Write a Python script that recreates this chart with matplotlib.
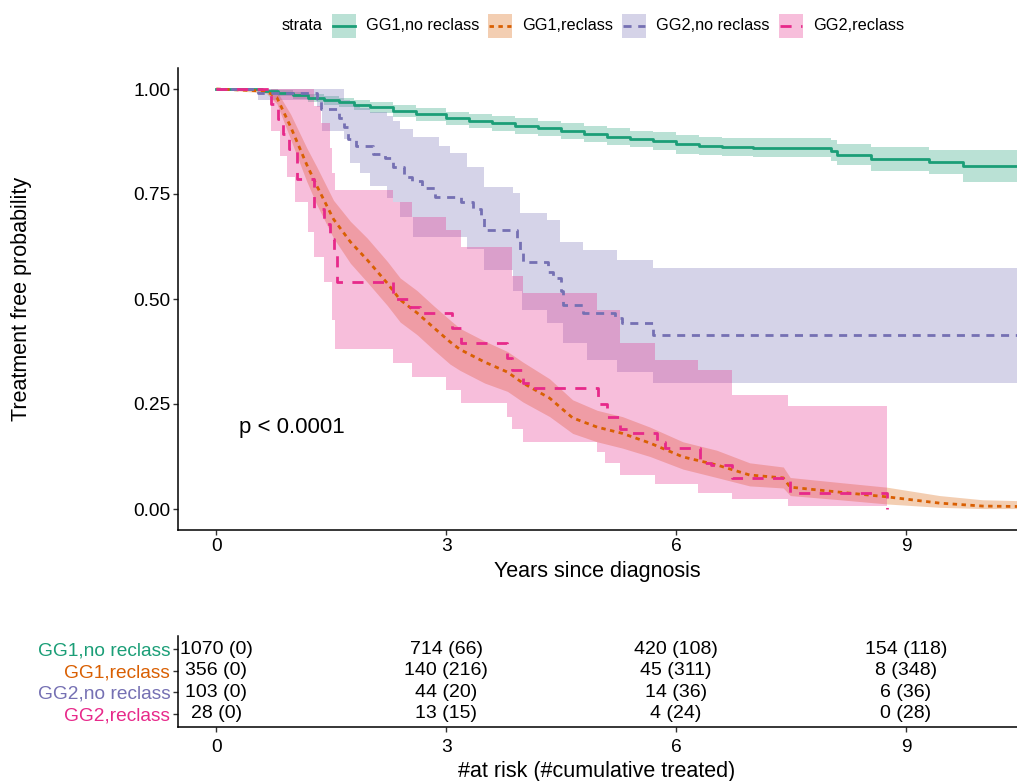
import matplotlib
matplotlib.use('Agg')
import matplotlib.pyplot as plt
from matplotlib.patches import Rectangle
from matplotlib.lines import Line2D

plt.rcParams['font.family'] = ['Liberation Sans', 'DejaVu Sans']

# ---------------- data ----------------
strata = ['GG1,no reclass', 'GG1,reclass', 'GG2,no reclass', 'GG2,reclass']
colors = ['#1B9E77', '#D95F02', '#7570B3', '#E7298A']

# GG1,no reclass (solid)
g1n_t = [0, 0.6, 0.8, 1.0, 1.2, 1.4, 1.6, 1.8, 2.0, 2.3, 2.6, 3.0, 3.3, 3.6, 3.9, 4.2, 4.5,
         4.8, 5.1, 5.4, 5.7, 6.0, 6.3, 6.6, 7.0, 8.02, 8.1, 8.55, 9.3, 9.75, 10.45]
g1n_s = [1.0, 0.995, 0.99, 0.985, 0.979, 0.974, 0.968, 0.962, 0.956, 0.948, 0.94, 0.93, 0.924,
         0.918, 0.912, 0.906, 0.9, 0.892, 0.886, 0.881, 0.876, 0.868, 0.864, 0.862, 0.86,
         0.852, 0.843, 0.833, 0.826, 0.817, 0.817]
g1n_up = [1.0, 1.0, 0.997, 0.993, 0.989, 0.984, 0.979, 0.974, 0.969, 0.962, 0.955, 0.946, 0.94,
          0.935, 0.93, 0.924, 0.918, 0.911, 0.906, 0.901, 0.897, 0.89, 0.886, 0.884, 0.883,
          0.878, 0.868, 0.862, 0.855, 0.855, 0.855]
g1n_lo = [1.0, 0.99, 0.983, 0.976, 0.969, 0.963, 0.956, 0.95, 0.943, 0.934, 0.925, 0.914, 0.908,
          0.901, 0.894, 0.888, 0.882, 0.873, 0.866, 0.861, 0.855, 0.846, 0.842, 0.84, 0.837,
          0.828, 0.818, 0.805, 0.798, 0.779, 0.779]

# GG1,reclass (dotted)
g1r_t = [0, 0.65, 0.79, 0.97, 1.18, 1.31, 1.53, 1.75, 1.97, 2.23, 2.4, 2.62, 2.83, 3.05, 3.18,
         3.5, 3.8, 4.0, 4.35, 4.65, 4.97, 5.3, 5.66, 6.09, 6.53, 6.96, 7.4, 7.49, 8.14, 8.75,
         9.44, 10.0, 10.45]
g1r_s = [1.0, 0.995, 0.98, 0.91, 0.82, 0.77, 0.69, 0.636, 0.593, 0.538, 0.498, 0.467, 0.433,
         0.398, 0.38, 0.35, 0.326, 0.30, 0.264, 0.217, 0.195, 0.18, 0.157, 0.124, 0.105, 0.081,
         0.074, 0.052, 0.04, 0.029, 0.014, 0.007, 0.006]
g1r_up = [1.0, 1.0, 0.995, 0.94, 0.86, 0.815, 0.735, 0.685, 0.645, 0.59, 0.55, 0.52, 0.485,
          0.45, 0.43, 0.40, 0.375, 0.35, 0.31, 0.26, 0.235, 0.22, 0.195, 0.16, 0.14, 0.11,
          0.10, 0.075, 0.063, 0.052, 0.032, 0.022, 0.02]
g1r_lo = [1.0, 0.99, 0.965, 0.88, 0.78, 0.725, 0.645, 0.585, 0.54, 0.485, 0.445, 0.415, 0.38,
          0.345, 0.33, 0.30, 0.28, 0.255, 0.22, 0.18, 0.16, 0.145, 0.125, 0.095, 0.075, 0.055,
          0.05, 0.032, 0.022, 0.012, 0.004, 0.001, 0.001]

# GG2,no reclass (dashed)
g2n_t = [0, 0.55, 1.31, 1.36, 1.6, 1.66, 1.72, 1.82, 2.05, 2.2, 2.3, 2.45, 2.55, 2.68, 2.85,
         3.2, 3.35, 3.45, 3.5, 3.92, 3.97, 4.0, 4.33, 4.4, 4.5, 4.53, 4.79, 5.2, 5.3, 5.7, 10.45]
g2n_s = [1.0, 0.99, 0.976, 0.952, 0.932, 0.91, 0.88, 0.865, 0.845, 0.835, 0.815, 0.79, 0.78,
         0.765, 0.743, 0.73, 0.715, 0.695, 0.664, 0.64, 0.61, 0.588, 0.565, 0.55, 0.52, 0.486,
         0.467, 0.455, 0.443, 0.414, 0.414]
g2n_ci_t = [0, 0.55, 1.31, 1.38, 1.66, 1.75, 1.88, 2.0, 2.23, 2.31, 2.4, 2.57, 2.9, 3.05, 3.27,
            3.49, 3.87, 3.97, 3.99, 4.31, 4.49, 4.53, 4.79, 4.84, 5.23, 5.7, 10.45]
g2n_up = [1.0, 1.0, 1.0, 1.0, 0.975, 0.965, 0.955, 0.945, 0.935, 0.925, 0.905, 0.885, 0.865,
          0.848, 0.815, 0.767, 0.752, 0.705, 0.705, 0.688, 0.636, 0.636, 0.617, 0.617, 0.593,
          0.574, 0.574]
g2n_lo = [1.0, 0.975, 0.957, 0.90, 0.88, 0.824, 0.80, 0.77, 0.74, 0.73, 0.695, 0.648, 0.648,
          0.648, 0.62, 0.57, 0.52, 0.52, 0.474, 0.443, 0.443, 0.395, 0.395, 0.355, 0.326,
          0.30, 0.30]

# GG2,reclass (long dash)
g2r_t = [0, 0.72, 0.80, 0.87, 0.95, 1.05, 1.27, 1.40, 1.49, 1.53, 1.58, 2.31, 2.53, 2.66,
         3.07, 3.20, 3.80, 3.86, 4.0, 4.10, 4.98, 5.10, 5.27, 5.40, 5.75, 5.85, 6.31, 6.45,
         6.73, 7.49, 8.75]
g2r_s = [1.0, 0.964, 0.929, 0.893, 0.857, 0.786, 0.714, 0.679, 0.643, 0.607, 0.54, 0.50, 0.48,
         0.467, 0.43, 0.395, 0.36, 0.33, 0.30, 0.288, 0.25, 0.22, 0.19, 0.18, 0.16, 0.145,
         0.11, 0.105, 0.075, 0.038, 0.0]
g2r_ci_t = [0, 0.72, 0.83, 0.92, 1.03, 1.2, 1.27, 1.36, 1.4, 1.49, 1.51, 1.55, 2.31, 2.55,
            3.0, 3.2, 3.79, 3.86, 4.0, 4.97, 5.07, 5.27, 5.72, 6.29, 6.73, 7.46, 8.75]
g2r_up = [1.0, 1.0, 1.0, 1.0, 1.0, 1.0, 0.96, 0.92, 0.92, 0.86, 0.80, 0.76, 0.73, 0.695,
          0.664, 0.624, 0.624, 0.555, 0.514, 0.474, 0.474, 0.395, 0.355, 0.33, 0.271, 0.245,
          0.245]
g2r_lo = [1.0, 0.90, 0.84, 0.79, 0.73, 0.66, 0.60, 0.60, 0.54, 0.54, 0.45, 0.38, 0.348, 0.314,
          0.283, 0.252, 0.22, 0.19, 0.16, 0.136, 0.11, 0.081, 0.060, 0.038, 0.024, 0.007,
          0.007]

# risk table
risk_times = [0, 3, 6, 9]
g1n_risk = [1070, 714, 420, 154]
g1n_cum = [0, 66, 108, 118]
g1r_risk = [356, 140, 45, 8]
g1r_cum = [0, 216, 311, 348]
g2n_risk = [103, 44, 14, 6]
g2n_cum = [0, 20, 36, 36]
g2r_risk = [28, 13, 4, 0]
g2r_cum = [0, 15, 24, 28]

x_ticks = [0, 3, 6, 9]
y_ticks = [0.0, 0.25, 0.50, 0.75, 1.00]
y_ticklabels = ['0.00', '0.25', '0.50', '0.75', '1.00']

# ---------------- figure ----------------
W, H = 1017, 781
fig = plt.figure(figsize=(W / 100, H / 100), dpi=100)


def fx(px):
    return px / W


def fy(py):
    return 1 - py / H


XLIM = (-0.5, 10.45)
ax = fig.add_axes([fx(178), fy(530), fx(1017 - 178), (530 - 68) / H])
ax.set_xlim(*XLIM)
ax.set_ylim(-0.05, 1.05)

ALPHA = 0.3
# ribbons
ax.fill_between(g1n_t, g1n_lo, g1n_up, step='post', color=colors[0], alpha=ALPHA, lw=0)
ax.fill_between(g1r_t, g1r_lo, g1r_up, color=colors[1], alpha=ALPHA, lw=0)
ax.fill_between(g2n_ci_t, g2n_lo, g2n_up, step='post', color=colors[2], alpha=ALPHA, lw=0)
ax.fill_between(g2r_ci_t, g2r_lo, g2r_up, step='post', color=colors[3], alpha=ALPHA, lw=0)

LW = 2.0
styles = ['-', (0, (1.6, 1.6)), (0, (2.9, 2.4)), (0, (4.0, 3.4))]
ax.step(g1n_t, g1n_s, where='post', color=colors[0], lw=LW, ls=styles[0])
ax.plot(g1r_t, g1r_s, color=colors[1], lw=LW, ls=styles[1])
ax.step(g2n_t, g2n_s, where='post', color=colors[2], lw=LW, ls=styles[2])
ax.step(g2r_t, g2r_s, where='post', color=colors[3], lw=LW, ls=styles[3])

for s in ['top', 'right']:
    ax.spines[s].set_visible(False)
for s in ['left', 'bottom']:
    ax.spines[s].set_linewidth(1.1)
    ax.spines[s].set_color('black')
ax.set_xticks(x_ticks)
ax.set_xticklabels([str(v) for v in x_ticks])
ax.set_yticks(y_ticks)
ax.set_yticklabels(y_ticklabels)
ax.tick_params(axis='both', labelsize=13.8, length=3.5, width=1.0, color='#333333',
               labelcolor='black')
ax.tick_params(axis='x', pad=2)
ax.tick_params(axis='y', pad=2)

ax.text(0.29, 0.195, 'p < 0.0001', ha='left', va='center', fontsize=16)

fig.text(fx(597), fy(571), 'Years since diagnosis', ha='center', va='center', fontsize=15.5)
fig.text(fx(22), fy(299), 'Treatment free probability', ha='center', va='center',
         rotation=90, fontsize=15.5)

# ---------------- legend ----------------
renderer = fig.canvas.get_renderer()
leg_y = 26
t0 = fig.text(fx(282), fy(leg_y), 'strata', ha='left', va='center', fontsize=11.7)
bb = t0.get_window_extent(renderer)
xcur = bb.x1 + 9
KW, KH = 24, 24
for lab, c, st in zip(strata, colors, styles):
    fig.add_artist(Rectangle((fx(xcur), fy(leg_y + KH / 2)), fx(KW), KH / H,
                             transform=fig.transFigure, facecolor=c, alpha=ALPHA, lw=0))
    fig.add_artist(Line2D([fx(xcur + 1), fx(xcur + KW - 1)], [fy(leg_y), fy(leg_y)],
                          transform=fig.transFigure, color=c, lw=LW, ls=st))
    tt = fig.text(fx(xcur + KW + 10), fy(leg_y), lab, ha='left', va='center', fontsize=11.7)
    bb = tt.get_window_extent(renderer)
    xcur = bb.x1 + 9

# ---------------- risk table ----------------
rt = fig.add_axes([fx(178), fy(727), fx(1017 - 178), (727 - 636) / H])
rt.set_xlim(*XLIM)
rt.set_ylim(0.4, 4.6)
rows = [(g1n_risk, g1n_cum), (g1r_risk, g1r_cum), (g2n_risk, g2n_cum), (g2r_risk, g2r_cum)]
ypos = [4, 3, 2, 1]
for (rk, cm), yv in zip(rows, ypos):
    for tv, r, c in zip(risk_times, rk, cm):
        rt.text(tv, yv, f'{r} ({c})', ha='center', va='center', fontsize=14)
for s in ['top', 'right']:
    rt.spines[s].set_visible(False)
for s in ['left', 'bottom']:
    rt.spines[s].set_linewidth(1.1)
    rt.spines[s].set_color('black')
rt.set_yticks(ypos)
rt.set_yticklabels(strata)
for lbl, c in zip(rt.get_yticklabels(), colors):
    lbl.set_color(c)
rt.set_xticks(x_ticks)
rt.set_xticklabels([str(v) for v in x_ticks])
rt.tick_params(axis='both', labelsize=13.8, length=3.5, width=1.0, color='#333333', pad=2)
rt.tick_params(axis='x', labelcolor='black', pad=5)
fig.text(fx(597), fy(771), '#at risk (#cumulative treated)', ha='center', va='center',
         fontsize=15.5)

fig.savefig('out.png', dpi=100)
